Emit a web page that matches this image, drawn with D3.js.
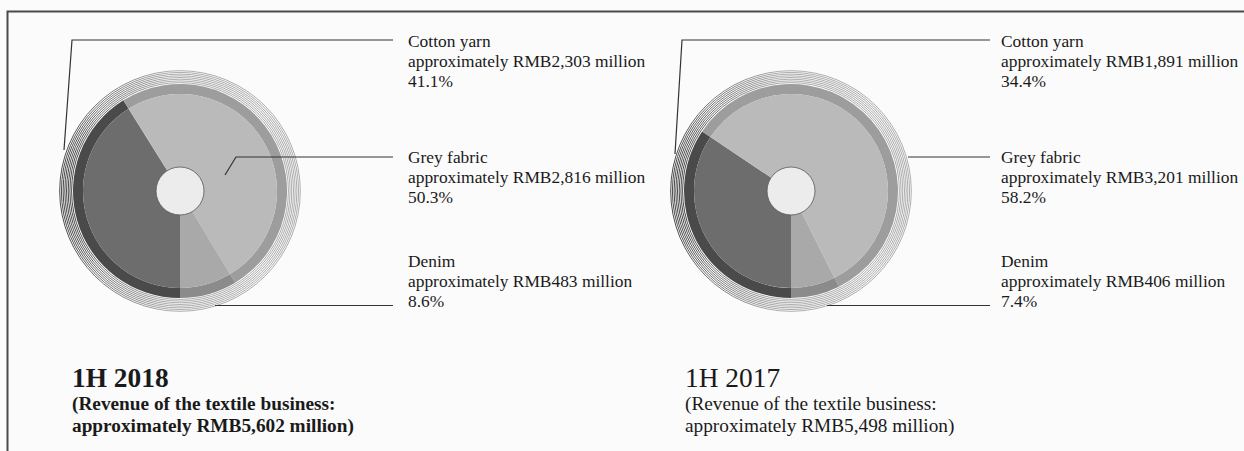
<!DOCTYPE html>
<html>
<head>
<meta charset="utf-8">
<script src="https://cdn.jsdelivr.net/npm/d3@7"></script>
<style>
  html, body { margin: 0; padding: 0; background: #fbfbfb; }
  svg { display: block; }
  text { font-family: "Liberation Serif", "Times New Roman", serif; fill: #1a1a1a; }
</style>
</head>
<body>
<svg id="chart" width="1244" height="451"></svg>
<script>
// ---- data ----
const categories = ["Cotton yarn", "Grey fabric", "Denim"];
const values2018 = [2303, 2816, 483];
const shares2018 = ["41.1%", "50.3%", "8.6%"];
const values2017 = [1891, 3201, 406];
const shares2017 = ["34.4%", "58.2%", "7.4%"];
const periods = ["1H 2018", "1H 2017"];
const totals = ["5,602", "5,498"];

// ---- styling ----
const fillColors = ["#6d6d6d", "#bababa", "#a9a9a9"];
const bandColors = ["#4a4a4a", "#9d9d9d", "#8b8b8b"];

const svg = d3.select("#chart");
svg.append("rect").attr("width", 1244).attr("height", 451).attr("fill", "#fbfbfb");

// frame
svg.append("path")
  .attr("d", "M7.5,451 L7.5,11.5 L1244,11.5")
  .attr("fill", "none").attr("stroke", "#4a4a4a").attr("stroke-width", 2);

// gradient for hatched ring
const defs = svg.append("defs");
const grad = defs.append("linearGradient").attr("id", "hatchGrad")
  .attr("x1", "0").attr("y1", "0").attr("x2", "1").attr("y2", "0");
grad.append("stop").attr("offset", "0%").attr("stop-color", "#1c1c1c");
grad.append("stop").attr("offset", "20%").attr("stop-color", "#606060");
grad.append("stop").attr("offset", "45%").attr("stop-color", "#999");
grad.append("stop").attr("offset", "100%").attr("stop-color", "#999");

const pie = d3.pie().sort(null).startAngle(Math.PI).endAngle(3 * Math.PI);
const rPie = 97, rBand = 107, rHole = 24;
const arcFill = d3.arc().innerRadius(0).outerRadius(rPie);
const arcBand = d3.arc().innerRadius(rPie).outerRadius(rBand);

const charts = [
  { cx: 180, cy: 191, values: values2018, shares: shares2018, textX: 408,
    leaders: [
      [[64, 150], [72, 40], [393, 40]],
      [[225, 175], [236, 157], [393, 157]],
      [[215, 305.5], [393, 305.5]]
    ],
    title: periods[0], total: totals[0], tx: 72, bold: true },
  { cx: 791, cy: 191, values: values2017, shares: shares2017, textX: 1001,
    leaders: [
      [[675, 154], [682, 40], [990, 40]],
      [[908, 157], [990, 157]],
      [[827, 305.5], [990, 305.5]]
    ],
    title: periods[1], total: totals[1], tx: 685, bold: false }
];

charts.forEach(c => {
  const g = svg.append("g").attr("transform", `translate(${c.cx},${c.cy})`);
  // hatched outer ring: concentric thin circles
  const hatchR = d3.range(0, 8).map(k => 108.4 + k * 1.7);
  g.selectAll("circle.hatch").data(hatchR).join("circle")
    .attr("class", "hatch")
    .attr("r", d => d)
    .attr("fill", "none")
    .attr("stroke", "url(#hatchGrad)")
    .attr("stroke-width", 0.8);
  const arcs = pie(c.values);
  g.selectAll("path.band").data(arcs).join("path")
    .attr("class", "band").attr("d", arcBand)
    .attr("fill", (d, i) => bandColors[i]);
  g.selectAll("path.fill").data(arcs).join("path")
    .attr("class", "fill").attr("d", arcFill)
    .attr("fill", (d, i) => fillColors[i]);
  g.append("circle").attr("r", rHole)
    .attr("fill", "#ececec").attr("stroke", "#555").attr("stroke-width", 0.8);

  // leader lines
  const line = d3.line();
  c.leaders.forEach(pts => {
    svg.append("path").attr("d", line(pts))
      .attr("fill", "none").attr("stroke", "#333").attr("stroke-width", 1.2);
  });

  // labels
  const baseYs = [47, 163, 267];
  categories.forEach((cat, i) => {
    const t = svg.append("text").attr("x", c.textX).attr("y", baseYs[i])
      .style("font-size", "17.4px");
    t.append("tspan").attr("x", c.textX).attr("dy", 0).text(cat);
    t.append("tspan").attr("x", c.textX).attr("dy", 20)
      .text("approximately RMB" + d3.format(",")(c.values[i]) + " million");
    t.append("tspan").attr("x", c.textX).attr("dy", 20).text(c.shares[i]);
  });

  // period titles
  const w = c.bold ? "bold" : "normal";
  svg.append("text").attr("x", c.tx).attr("y", 387)
    .style("font-size", "27.4px").style("font-weight", w).text(c.title);
  svg.append("text").attr("x", c.tx).attr("y", 410)
    .style("font-size", "19.3px").style("font-weight", w)
    .text("(Revenue of the textile business:");
  svg.append("text").attr("x", c.tx).attr("y", 432)
    .style("font-size", "19.3px").style("font-weight", w)
    .text("approximately RMB" + c.total + " million)");
});
</script>
</body>
</html>
